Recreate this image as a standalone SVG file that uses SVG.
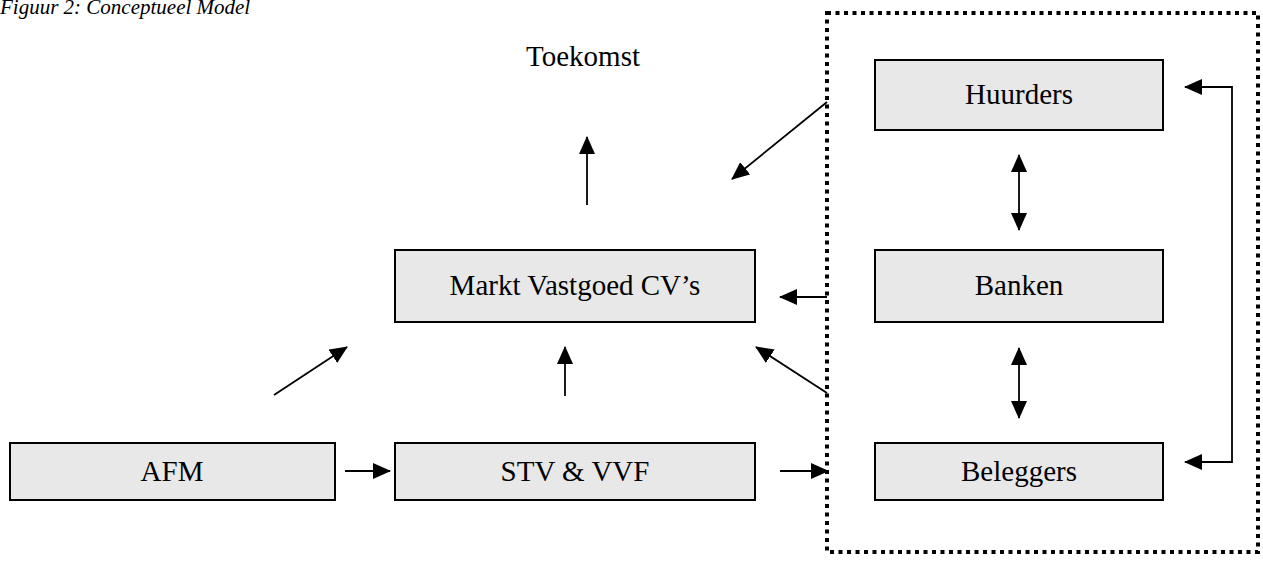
<svg xmlns="http://www.w3.org/2000/svg" width="1263" height="563" viewBox="0 0 1263 563">
<defs>
<marker id="ah" markerWidth="18" markerHeight="16" refX="17" refY="8" orient="auto-start-reverse" markerUnits="userSpaceOnUse">
<path d="M0,0 L18,8 L0,16 Z" fill="#000"/>
</marker>
</defs>
<style>
.box{fill:#e8e8e8;stroke:#000;stroke-width:2}
.lbl{font-family:"Liberation Serif","Times New Roman",serif;font-size:29px;fill:#000;text-anchor:middle;dominant-baseline:central}
.con{stroke:#000;stroke-width:1.8;fill:none}
.arr{marker-end:url(#ah)}
.both{marker-start:url(#ah);marker-end:url(#ah)}
</style>
<rect width="1263" height="563" fill="#fff"/>
<text x="0" y="14" style="font-family:'Liberation Serif','Times New Roman',serif;font-size:21px;font-style:italic">Figuur 2: Conceptueel Model</text>
<text x="583" y="56" class="lbl">Toekomst</text>
<rect x="827" y="13" width="431" height="539" fill="none" stroke="#000" stroke-width="4" stroke-dasharray="4 4.5"/>
<g id="huurders"><rect class="box" x="875" y="60" width="288" height="70"/><text class="lbl" x="1019" y="94">Huurders</text></g>
<g id="banken"><rect class="box" x="875" y="250" width="288" height="72"/><text class="lbl" x="1019" y="285">Banken</text></g>
<g id="beleggers"><rect class="box" x="875" y="443" width="288" height="57"/><text class="lbl" x="1019" y="471">Beleggers</text></g>
<g id="markt"><rect class="box" x="395" y="250" width="360" height="72"/><text class="lbl" x="575" y="285">Markt Vastgoed CV’s</text></g>
<g id="afm"><rect class="box" x="10" y="443" width="325" height="57"/><text class="lbl" x="172" y="471">AFM</text></g>
<g id="stv"><rect class="box" x="395" y="443" width="360" height="57"/><text class="lbl" x="575" y="471">STV &amp; VVF</text></g>
<g id="connectors">
<line class="con arr" x1="827" y1="102" x2="732" y2="179"/>
<line class="con both" x1="1019" y1="155" x2="1019" y2="230"/>
<line class="con both" x1="1019" y1="348" x2="1019" y2="418"/>
<polyline class="con" points="1185,462 1232,462 1232,87 1185,87" style="marker-start:url(#ah);marker-end:url(#ah)"/>
<line class="con arr" x1="827" y1="297" x2="780" y2="297"/>
<line class="con arr" x1="827" y1="393" x2="756" y2="347"/>
<line class="con arr" x1="565" y1="396" x2="565" y2="347"/>
<line class="con arr" x1="274" y1="395" x2="347" y2="347"/>
<line class="con arr" x1="587" y1="205" x2="587" y2="137"/>
<line class="con arr" x1="345" y1="471" x2="390" y2="471"/>
<line class="con arr" x1="780" y1="471" x2="828" y2="471"/>
</g>
</svg>
